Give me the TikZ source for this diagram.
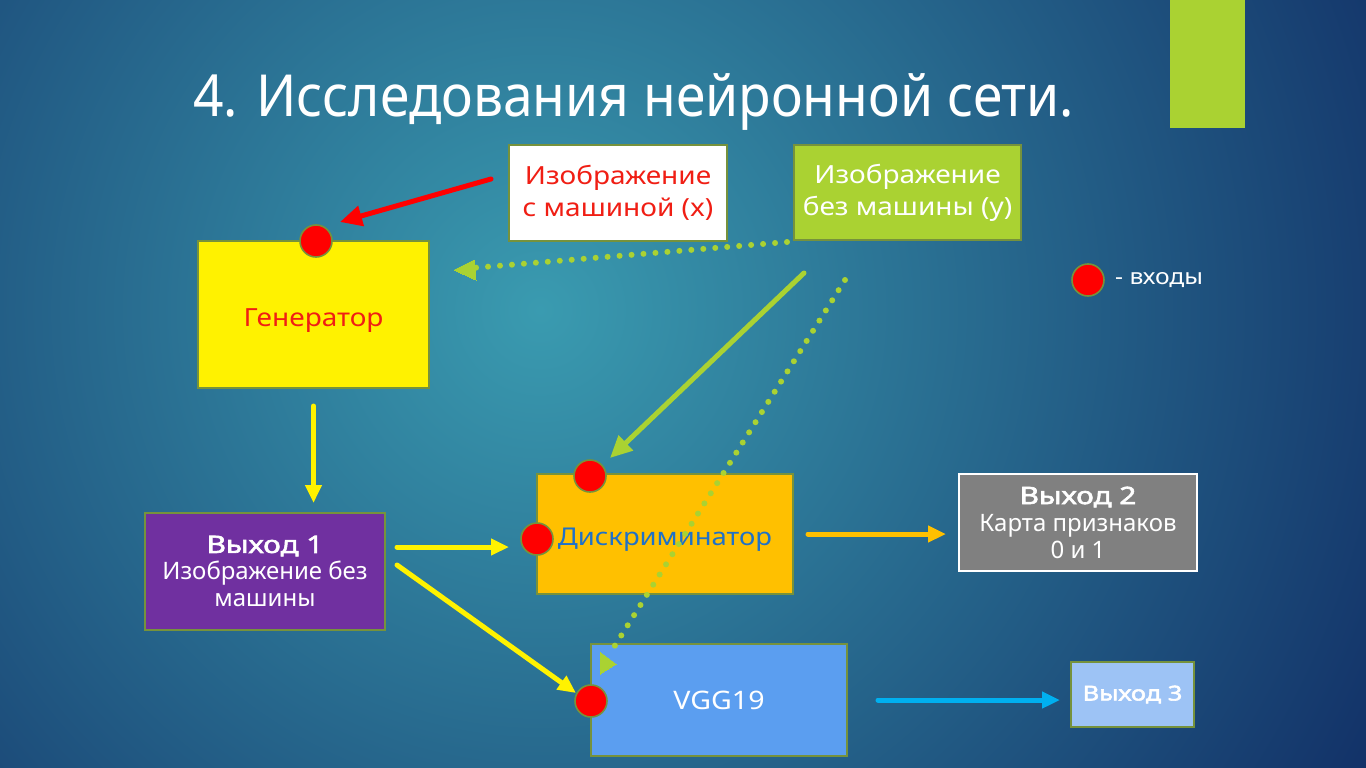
\documentclass[tikz,border=0pt]{standalone}
\usepackage{fontspec}
\setmainfont{Noto Sans}[AutoFakeBold=2.2]
\newfontfamily\widefont{Noto Sans}[FakeStretch=1.12, AutoFakeBold=2.2]
\newfontfamily\headfont{Noto Sans}[FakeStretch=1.24, FakeBold=2.6]
\newfontfamily\titlefont{Noto Sans}[FakeStretch=0.92]
\usetikzlibrary{arrows.meta,calc}

\definecolor{bginner}{RGB}{58,155,176}
\definecolor{bgouter}{RGB}{14,38,96}
\definecolor{olivebd}{RGB}{118,146,60}
\definecolor{lime}{RGB}{170,210,50}
\definecolor{amber}{RGB}{255,192,0}
\definecolor{purp}{RGB}{112,48,160}
\definecolor{greybox}{RGB}{128,128,128}
\definecolor{vggblue}{RGB}{91,158,240}
\definecolor{lightblue}{RGB}{157,195,245}
\definecolor{cyanarrow}{RGB}{0,176,240}
\definecolor{discblue}{RGB}{31,113,200}
\definecolor{genred}{RGB}{240,30,20}

\tikzset{
  box/.style={draw=olivebd, line width=2pt, inner sep=0pt, align=center,
    font=\fontsize{24}{27}\selectfont},
  widebox/.style={box, font=\widefont\fontsize{25}{32}\selectfont},
  port/.style={circle, fill=red, draw=olivebd, line width=1.6pt,
    minimum size=32pt, inner sep=0pt},
  conn/.style={line width=5pt, line cap=round},
  dotconn/.style={line width=6pt, line cap=round, dash pattern=on 0pt off 12pt},
  tipbig/.style={-{Triangle[length=22pt,width=20pt]}},
  tipsmall/.style={-{Triangle[length=18pt,width=16pt]}},
}
\newcommand{\headline}[1]{{\headfont #1}}
% single line set with its baseline a fixed distance below the node centre
\newcommand{\lowline}[2]{\raisebox{-#1}[0pt][0pt]{#2}}

\begin{document}
\begin{tikzpicture}[x=1pt,y=-1pt]
  \useasboundingbox (0,0) rectangle (1366,768);
  % background
  \begin{scope}
    \clip (0,0) rectangle (1366,768);
    \fill[bgouter] (0,0) rectangle (1366,768);
    \shade[inner color=bginner, outer color=bgouter] (540,310) circle (1050);
  \end{scope}
  \fill[lime] (1170,0) rectangle (1245,128);

  % title
  \node[anchor=base west, text=white, inner sep=0pt,
        font=\titlefont\fontsize{58}{60}\selectfont] (title) at (193,117)
        {4. Исследования нейронной сети.};

  % boxes
  \node[widebox, fill=white, text=genred, minimum width=218pt, minimum height=96pt]
    (imgx) at (618,193) {Изображение\\с машиной (x)};
  \node[widebox, fill=lime, text=white, minimum width=227pt, minimum height=95pt]
    (imgy) at (907.5,192.5) {Изображение\\без машины (у)};
  \node[widebox, fill=yellow, text=genred, minimum width=231pt, minimum height=147pt]
    (gen) at (313.5,314.5) {\lowline{12pt}{Генератор}};
  \node[box, fill=purp, text=white, minimum width=240pt, minimum height=117pt]
    (out1) at (265,571.5) {\headline{Выход 1}\\Изображение без\\машины};
  \node[widebox, fill=amber, text=discblue, minimum width=256pt, minimum height=120pt,
        font=\widefont\fontsize{24.5}{30}\selectfont]
    (disc) at (665,534) {\lowline{11pt}{Дискриминатор}};
  \node[box, draw=white, fill=greybox, text=white, minimum width=238pt, minimum height=97pt]
    (out2) at (1078,522.5) {\headline{Выход 2}\\Карта признаков\\0 и 1};
  \node[widebox, fill=vggblue, text=white, minimum width=256pt, minimum height=112pt,
        font=\widefont\fontsize{25.5}{30}\selectfont]
    (vgg) at (719,700) {VGG19};
  \node[box, fill=lightblue, text=white, minimum width=123pt, minimum height=65pt,
        font=\headfont\fontsize{20.5}{25}\selectfont]
    (out3) at (1132.5,694.5) {Выход 3};

  % input ports
  \node[port] (pg) at (316,241) {};
  \node[port] (pdt) at (590,476) {};
  \node[port] (pdl) at (537,539) {};
  \node[port] (pv) at (591,701) {};

  % legend
  \node[port] (legdot) at (1088,280) {};
  \node[anchor=west, text=white, inner sep=0pt, font=\widefont\fontsize{22}{24}\selectfont]
    (legtext) at (1115,280) {- входы};

  % connectors
  \draw[conn, red, tipbig] ($(imgx.west)+(-17,-14)$) -- ($(pg)+(24,-19)$);
  \draw[dotconn, lime] ($(imgy.south west)+(-6,1)$) -- ($(gen.north east)+(42,28)$);
  \draw[lime, line width=0pt, fill=lime] ($(gen.north east)+(24,30)$) -- ++(20,-10) -- ++(2,20) -- cycle;
  \draw[conn, lime, tipbig] ($(imgy.south west)+(11,32)$) -- ($(pdt)+(20,-18)$);
  \draw[dotconn, lime] ($(imgy.south west)+(52,39)$) -- ($(pv)+(18,-46)$);
  \draw[lime, line width=0pt, fill=lime] ($(pv)+(9,-27)$) -- ++(0,-22) -- ++(16,12) -- cycle;
  \draw[conn, yellow, tipsmall] ($(gen.south)+(0,17)$) -- ($(gen.south)+(0,114)$);
  \draw[conn, yellow, tipsmall] ($(out1.east)+(11,-24.5)$) -- ($(pdl)+(-28,8)$);
  \draw[conn, yellow, tipsmall] ($(out1.east)+(11,-6.5)$) -- ($(pv)+(-15,-8)$);
  \draw[conn, amber, tipsmall] ($(disc.east)+(14,0)$) -- ($(out2.west)+(-12,11.5)$);
  \draw[conn, cyanarrow, tipsmall] ($(vgg.east)+(30,0)$) -- ($(out3.west)+(-10,5.5)$);
\end{tikzpicture}
\end{document}
